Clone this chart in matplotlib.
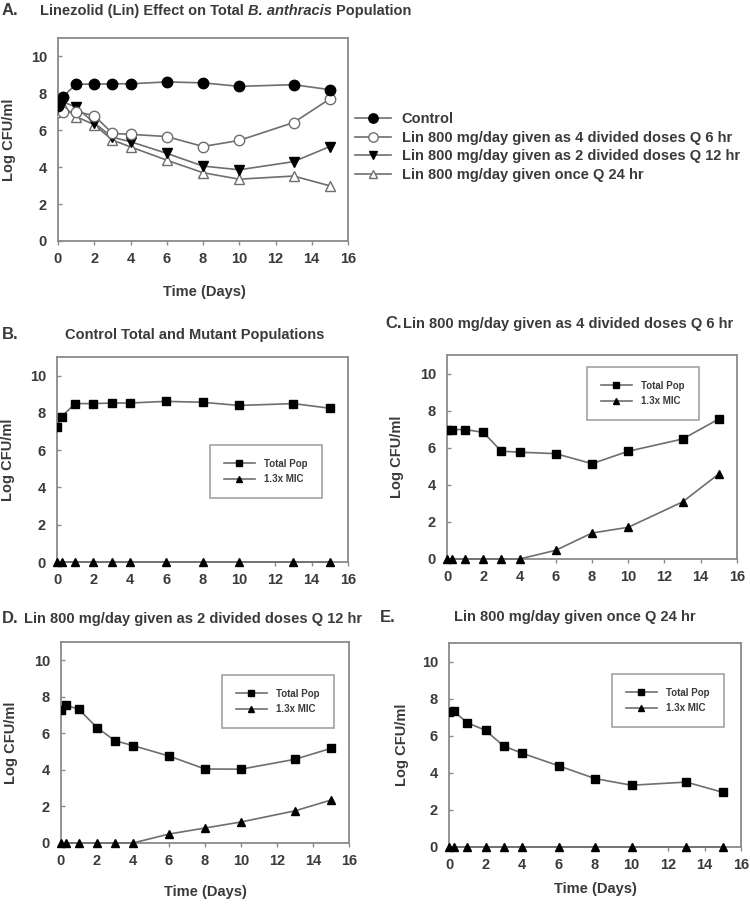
import matplotlib
matplotlib.use("Agg")
import matplotlib.pyplot as plt

plt.rcParams['font.family'] = ['Liberation Sans', 'DejaVu Sans']

# ---------------- data ----------------
days = [0, 0.25, 1, 2, 3, 4, 6, 8, 10, 13, 15]

# Panel A
a_control = [7.3, 7.8, 8.5, 8.5, 8.52, 8.52, 8.62, 8.57, 8.38, 8.47, 8.2]
a_q6 = [7.0, 7.0, 7.0, 6.8, 5.83, 5.78, 5.66, 5.12, 5.45, 6.42, 7.7]
a_q12 = [7.3, 7.55, 7.25, 6.4, 5.62, 5.38, 4.75, 4.06, 3.86, 4.3, 5.12]
a_q24 = [7.3, 7.3, 6.74, 6.3, 5.47, 5.1, 4.38, 3.7, 3.35, 3.52, 2.99]
a_labels = ["Control",
            "Lin 800 mg/day given as 4 divided doses Q 6 hr",
            "Lin 800 mg/day given as 2 divided doses Q 12 hr",
            "Lin 800 mg/day given once Q 24 hr"]

# Panels B-E : total population and 1.3x MIC mutant population
b_total = [7.25, 7.8, 8.5, 8.5, 8.53, 8.53, 8.62, 8.57, 8.4, 8.5, 8.25]
b_mut = [0, 0, 0, 0, 0, 0, 0, 0, 0, 0, 0]
c_total = [6.98, 6.98, 6.98, 6.83, 5.81, 5.76, 5.68, 5.14, 5.81, 6.47, 7.55]
c_mut = [0, 0, 0, 0, 0, 0, 0.47, 1.4, 1.71, 3.08, 4.59]
d_total = [7.27, 7.55, 7.31, 6.31, 5.6, 5.33, 4.76, 4.05, 4.04, 4.58, 5.18]
d_mut = [0, 0, 0, 0, 0, 0, 0.49, 0.82, 1.15, 1.76, 2.35]
e_total = [7.28, 7.33, 6.7, 6.29, 5.44, 5.06, 4.38, 3.69, 3.33, 3.5, 2.95]
e_mut = [0, 0, 0, 0, 0, 0, 0, 0, 0, 0, 0]
sub_labels = ["Total Pop", "1.3x MIC"]

x_ticks = [0, 2, 4, 6, 8, 10, 12, 14, 16]
y_ticks = [0, 2, 4, 6, 8, 10]

# ---------------- layout ----------------
W, H = 750, 908
fig = plt.figure(figsize=(W / 100, H / 100), dpi=100)
TXT = '#3a3a3a'
LINE = '#6e6e6e'
FRAME = '#8a8a8a'
FS = 10.5


def rect(l, t, r, b):
    return [l / W, 1 - b / H, (r - l) / W, (b - t) / H]


def style(ax):
    ax.set_xlim(0, 16)
    ax.set_ylim(0, 11)
    ax.set_xticks(x_ticks)
    ax.set_yticks(y_ticks)
    for s in ax.spines.values():
        s.set_color(FRAME)
        s.set_linewidth(1.3)
    ax.tick_params(axis='both', length=3, width=1, color=FRAME,
                   labelsize=FS, labelcolor=TXT)
    ax.tick_params(axis='x', direction='out', pad=5)
    ax.tick_params(axis='y', direction='in', pad=8)
    for lab in ax.get_xticklabels() + ax.get_yticklabels():
        lab.set_fontweight('bold')


def ftext(x, y, s, **kw):
    kw.setdefault('color', TXT)
    kw.setdefault('fontweight', 'bold')
    return fig.text(x / W, 1 - y / H, s, **kw)


# ---------------- panel A ----------------
axA = fig.add_axes(rect(58, 38, 348, 241))
style(axA)
axA.plot(days, a_control, color=LINE, lw=1.2, marker='o', ms=7.5,
         mfc='black', mec='black', label=a_labels[0], zorder=5)
axA.plot(days, a_q6, color=LINE, lw=1.2, marker='o', ms=7.5,
         mfc='white', mec=LINE, mew=1, label=a_labels[1], zorder=4)
axA.plot(days, a_q12, color=LINE, lw=1.2, marker='v', ms=7,
         mfc='black', mec='black', label=a_labels[2], zorder=3)
axA.plot(days, a_q24, color=LINE, lw=1.2, marker='^', ms=7,
         mfc='white', mec=LINE, mew=1, label=a_labels[3], zorder=2)
axA.legend(loc='upper left', bbox_to_anchor=(355 / W, 1 - 112 / H),
           bbox_transform=fig.transFigure, frameon=False, borderpad=0,
           borderaxespad=0, handlelength=2.5, handletextpad=0.7,
           labelspacing=0.32, prop={'size': FS, 'weight': 'bold'},
           labelcolor=TXT, markerscale=0.9)

# ---------------- panels B-E ----------------
panels = [
    (rect(57, 357, 348, 562), b_total, b_mut, (210, 445)),
    (rect(447, 355, 737, 559), c_total, c_mut, (587, 367)),
    (rect(61, 642, 349, 843), d_total, d_mut, (222, 675)),
    (rect(449, 643, 741, 847), e_total, e_mut, (612, 674)),
]
for r, tot, mut, (lx, ly) in panels:
    ax = fig.add_axes(r)
    style(ax)
    ax.plot(days, tot, color=LINE, lw=1.2, marker='s', ms=6.3,
            mfc='black', mec='black', label=sub_labels[0], zorder=4)
    ax.plot(days, mut, color=LINE, lw=1.2, marker='^', ms=6,
            mfc='black', mec='black', label=sub_labels[1], zorder=3,
            clip_on=False)
    leg = ax.legend(loc='upper left', bbox_to_anchor=(lx / W, 1 - ly / H),
                    bbox_transform=fig.transFigure, frameon=True,
                    fancybox=False, borderpad=1.4, borderaxespad=0,
                    handlelength=3.2, handletextpad=1.0, labelspacing=0.6,
                    prop={'size': 7, 'weight': 'bold'}, labelcolor=TXT,
                    markerscale=0.75)
    leg.get_frame().set_edgecolor(FRAME)
    leg.get_frame().set_linewidth(1.2)

# ---------------- texts ----------------
ftext(2, 15, "A.", fontsize=12, va='baseline', ha='left')
t1 = ftext(40, 15, "Linezolid (Lin) Effect on Total ", fontsize=FS,
           va='baseline', ha='left')
fig.canvas.draw()
rend = fig.canvas.get_renderer()
bb = t1.get_window_extent(rend)
t2 = fig.text(bb.x1 / W, 1 - 15 / H, "B. anthracis", fontsize=FS,
              fontstyle='italic', fontweight='bold', color=TXT,
              va='baseline', ha='left')
bb2 = t2.get_window_extent(rend)
fig.text((bb2.x1 + 4) / W, 1 - 15 / H, "Population", fontsize=FS,
         fontweight='bold', color=TXT, va='baseline', ha='left')

ftext(2, 339, "B.", fontsize=12, va='baseline', ha='left')
ftext(195, 339, "Control Total and Mutant Populations", fontsize=FS,
      va='baseline', ha='center')
ftext(385, 328, "C.", fontsize=12, va='baseline', ha='left')
ftext(403, 328, "Lin 800 mg/day given as 4 divided doses Q 6 hr", fontsize=FS,
      va='baseline', ha='left')
ftext(2, 623, "D.", fontsize=12, va='baseline', ha='left')
ftext(24, 623, "Lin 800 mg/day given as 2 divided doses Q 12 hr", fontsize=FS,
      va='baseline', ha='left')
ftext(380, 622, "E.", fontsize=12, va='baseline', ha='left')
ftext(575, 621, "Lin 800 mg/day given once Q 24 hr", fontsize=FS,
      va='baseline', ha='center')

# axis labels
for (x, y) in [(204, 296), (205, 896), (595, 893)]:
    ftext(x, y, "Time (Days)", fontsize=FS, va='baseline', ha='center')
for (x, y) in [(9, 139.5), (8, 459.5), (397, 457), (11, 742.5), (402, 745)]:
    ftext(x, y, "Log CFU/ml", fontsize=FS, va='center', ha='center',
          rotation=90)

fig.savefig("out.png", dpi=100)
